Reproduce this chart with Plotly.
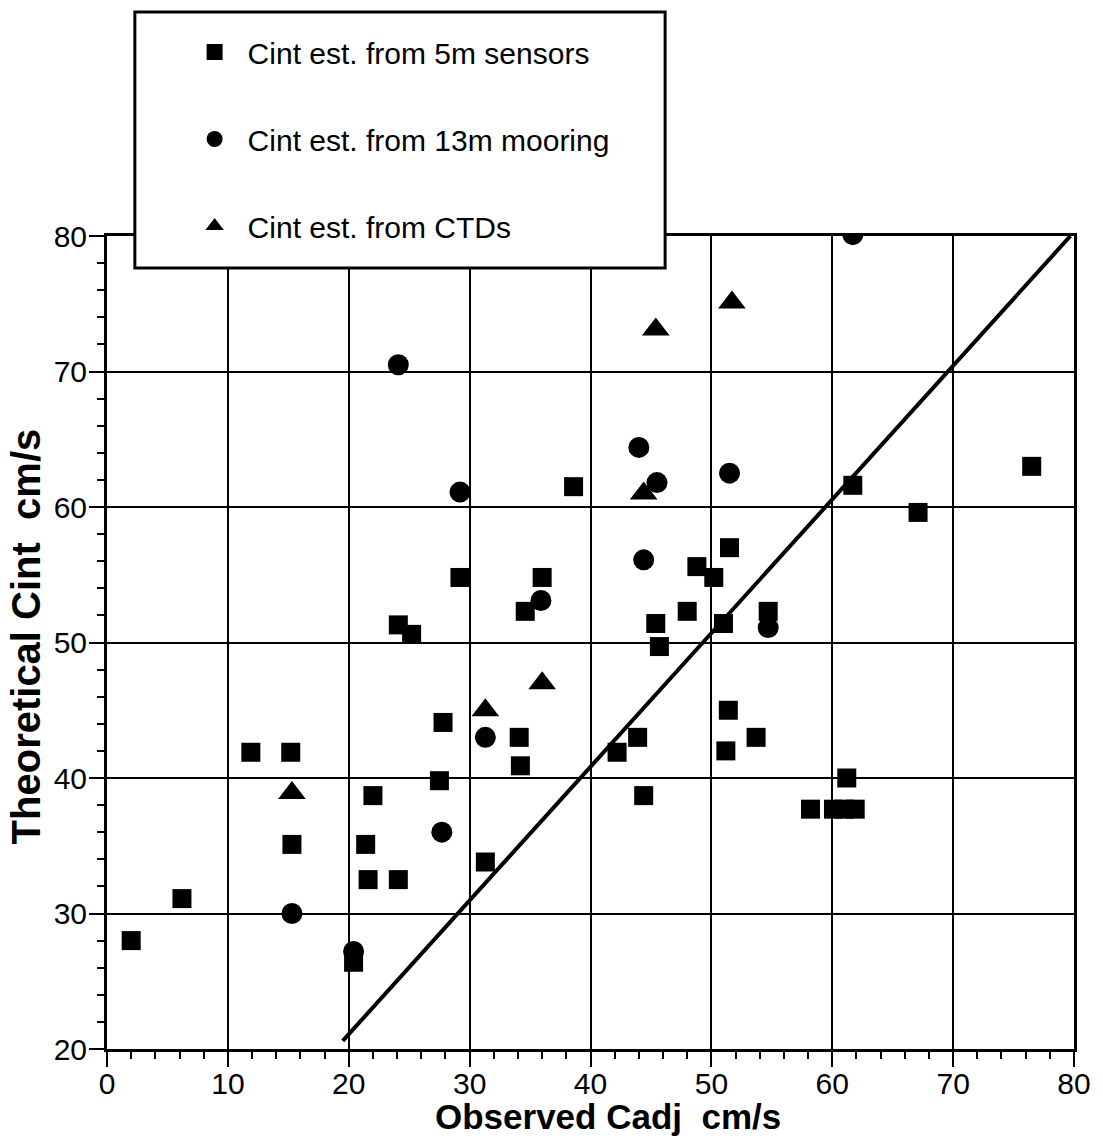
import plotly.graph_objects as go

# ---- data ----
sq_x = [2.0, 6.2, 11.9, 15.2, 15.3, 20.4, 21.4, 21.6, 22.0, 24.1, 24.1, 25.2, 27.5, 27.8,
        29.2, 31.3, 34.1, 34.2, 34.6, 36.0, 38.6, 42.2, 43.9, 44.4, 45.4, 45.7, 48.0, 48.8,
        50.2, 51.0, 51.2, 51.4, 51.5, 53.7, 54.7, 58.2, 60.1, 61.0, 61.9, 61.2, 61.7, 67.1, 76.5]
sq_y = [28.0, 31.1, 41.9, 41.9, 35.1, 26.4, 35.1, 32.5, 38.7, 32.5, 51.3, 50.6, 39.8, 44.1,
        54.8, 33.8, 43.0, 40.9, 52.3, 54.8, 61.5, 41.9, 43.0, 38.7, 51.4, 49.7, 52.3, 55.6,
        54.8, 51.4, 42.0, 45.0, 57.0, 43.0, 52.3, 37.7, 37.7, 37.7, 37.7, 40.0, 61.6, 59.6, 63.0]

ci_x = [15.3, 20.4, 24.1, 27.7, 29.2, 31.3, 35.9, 44.0, 44.4, 45.5, 51.5, 54.7, 61.7]
ci_y = [30.0, 27.2, 70.5, 36.0, 61.1, 43.0, 53.1, 64.4, 56.1, 61.8, 62.5, 51.1, 80.1]

tr_x = [15.3, 31.3, 36.0, 44.4, 45.4, 51.7]
tr_y = [38.9, 45.0, 47.0, 61.0, 73.1, 75.1]

line_x = [19.5, 79.7]
line_y = [20.6, 80.0]

names = ["Cint est. from 5m sensors", "Cint est. from 13m mooring", "Cint est. from CTDs"]
x_title = "Observed Cadj \u00a0cm/s"
y_title = "Theoretical Cint \u00a0cm/s"

FONT = "Liberation Sans, Arial, Helvetica, sans-serif"

fig = go.Figure()
fig.add_trace(go.Scatter(x=line_x, y=line_y, mode="lines", showlegend=False,
                         line=dict(color="black", width=4)))
fig.add_trace(go.Scatter(x=sq_x, y=sq_y, mode="markers", name=names[0], legendgroup="a",
                         marker=dict(symbol="square", size=19, color="black")))
fig.add_trace(go.Scatter(x=ci_x, y=ci_y, mode="markers", name=names[1], legendgroup="b",
                         marker=dict(symbol="circle", size=21, color="black")))
fig.add_trace(go.Scatter(x=tr_x, y=tr_y, mode="markers", name=names[2], legendgroup="c",
                         marker=dict(symbol="triangle-up", size=24, color="black")))

axis_common = dict(
    showgrid=True, gridcolor="black", gridwidth=2,
    showline=True, linecolor="black", linewidth=3, mirror=True,
    ticks="outside", ticklen=15, tickwidth=2, tickcolor="black",
    tickfont=dict(family=FONT, size=30, color="black"),
    zeroline=False, dtick=10,
    minor=dict(dtick=2, ticks="outside", ticklen=7, tickwidth=2, tickcolor="black", showgrid=False),
)
fig.update_xaxes(range=[0, 80], tick0=0, ticklabelstandoff=-9, **axis_common)
fig.update_yaxes(range=[20, 80], tick0=20, ticklabelstandoff=-4, **axis_common)

fig.update_layout(
    width=1103, height=1141,
    margin=dict(l=107, r=24, t=236, b=92),
    plot_bgcolor="white", paper_bgcolor="white",
    font=dict(family=FONT, color="black"),
    showlegend=True,
    legend=dict(
        x=(182 - 107) / 972, xanchor="left",
        y=1 + (236 - 26) / 813, yanchor="top",
        bgcolor="rgba(0,0,0,0)", borderwidth=0,
        font=dict(family=FONT, size=30, color="black"),
        tracegroupgap=45, itemwidth=56,
    ),
    shapes=[dict(type="rect", xref="paper", yref="paper", layer="above",
                 x0=(135 - 107) / 972, x1=(668 - 107) / 972,
                 y0=(1049 - 268) / 813, y1=(1049 - 12) / 813,
                 fillcolor="white", line=dict(color="black", width=3))],
    annotations=[
        dict(text=x_title, xref="paper", yref="paper", x=(611 - 107) / 972,
             y=(1049 - 1116) / 813, xanchor="center", yanchor="middle", showarrow=False,
             font=dict(family=FONT, size=35, color="black", weight="bold")),
        dict(text=y_title, xref="paper", yref="paper", x=(26 - 107) / 972,
             y=(1049 - 636) / 813, xanchor="center", yanchor="middle", showarrow=False,
             textangle=-90,
             font=dict(family=FONT, size=40, color="black", weight="bold")),
    ],
)

fig.write_html("out.html")
